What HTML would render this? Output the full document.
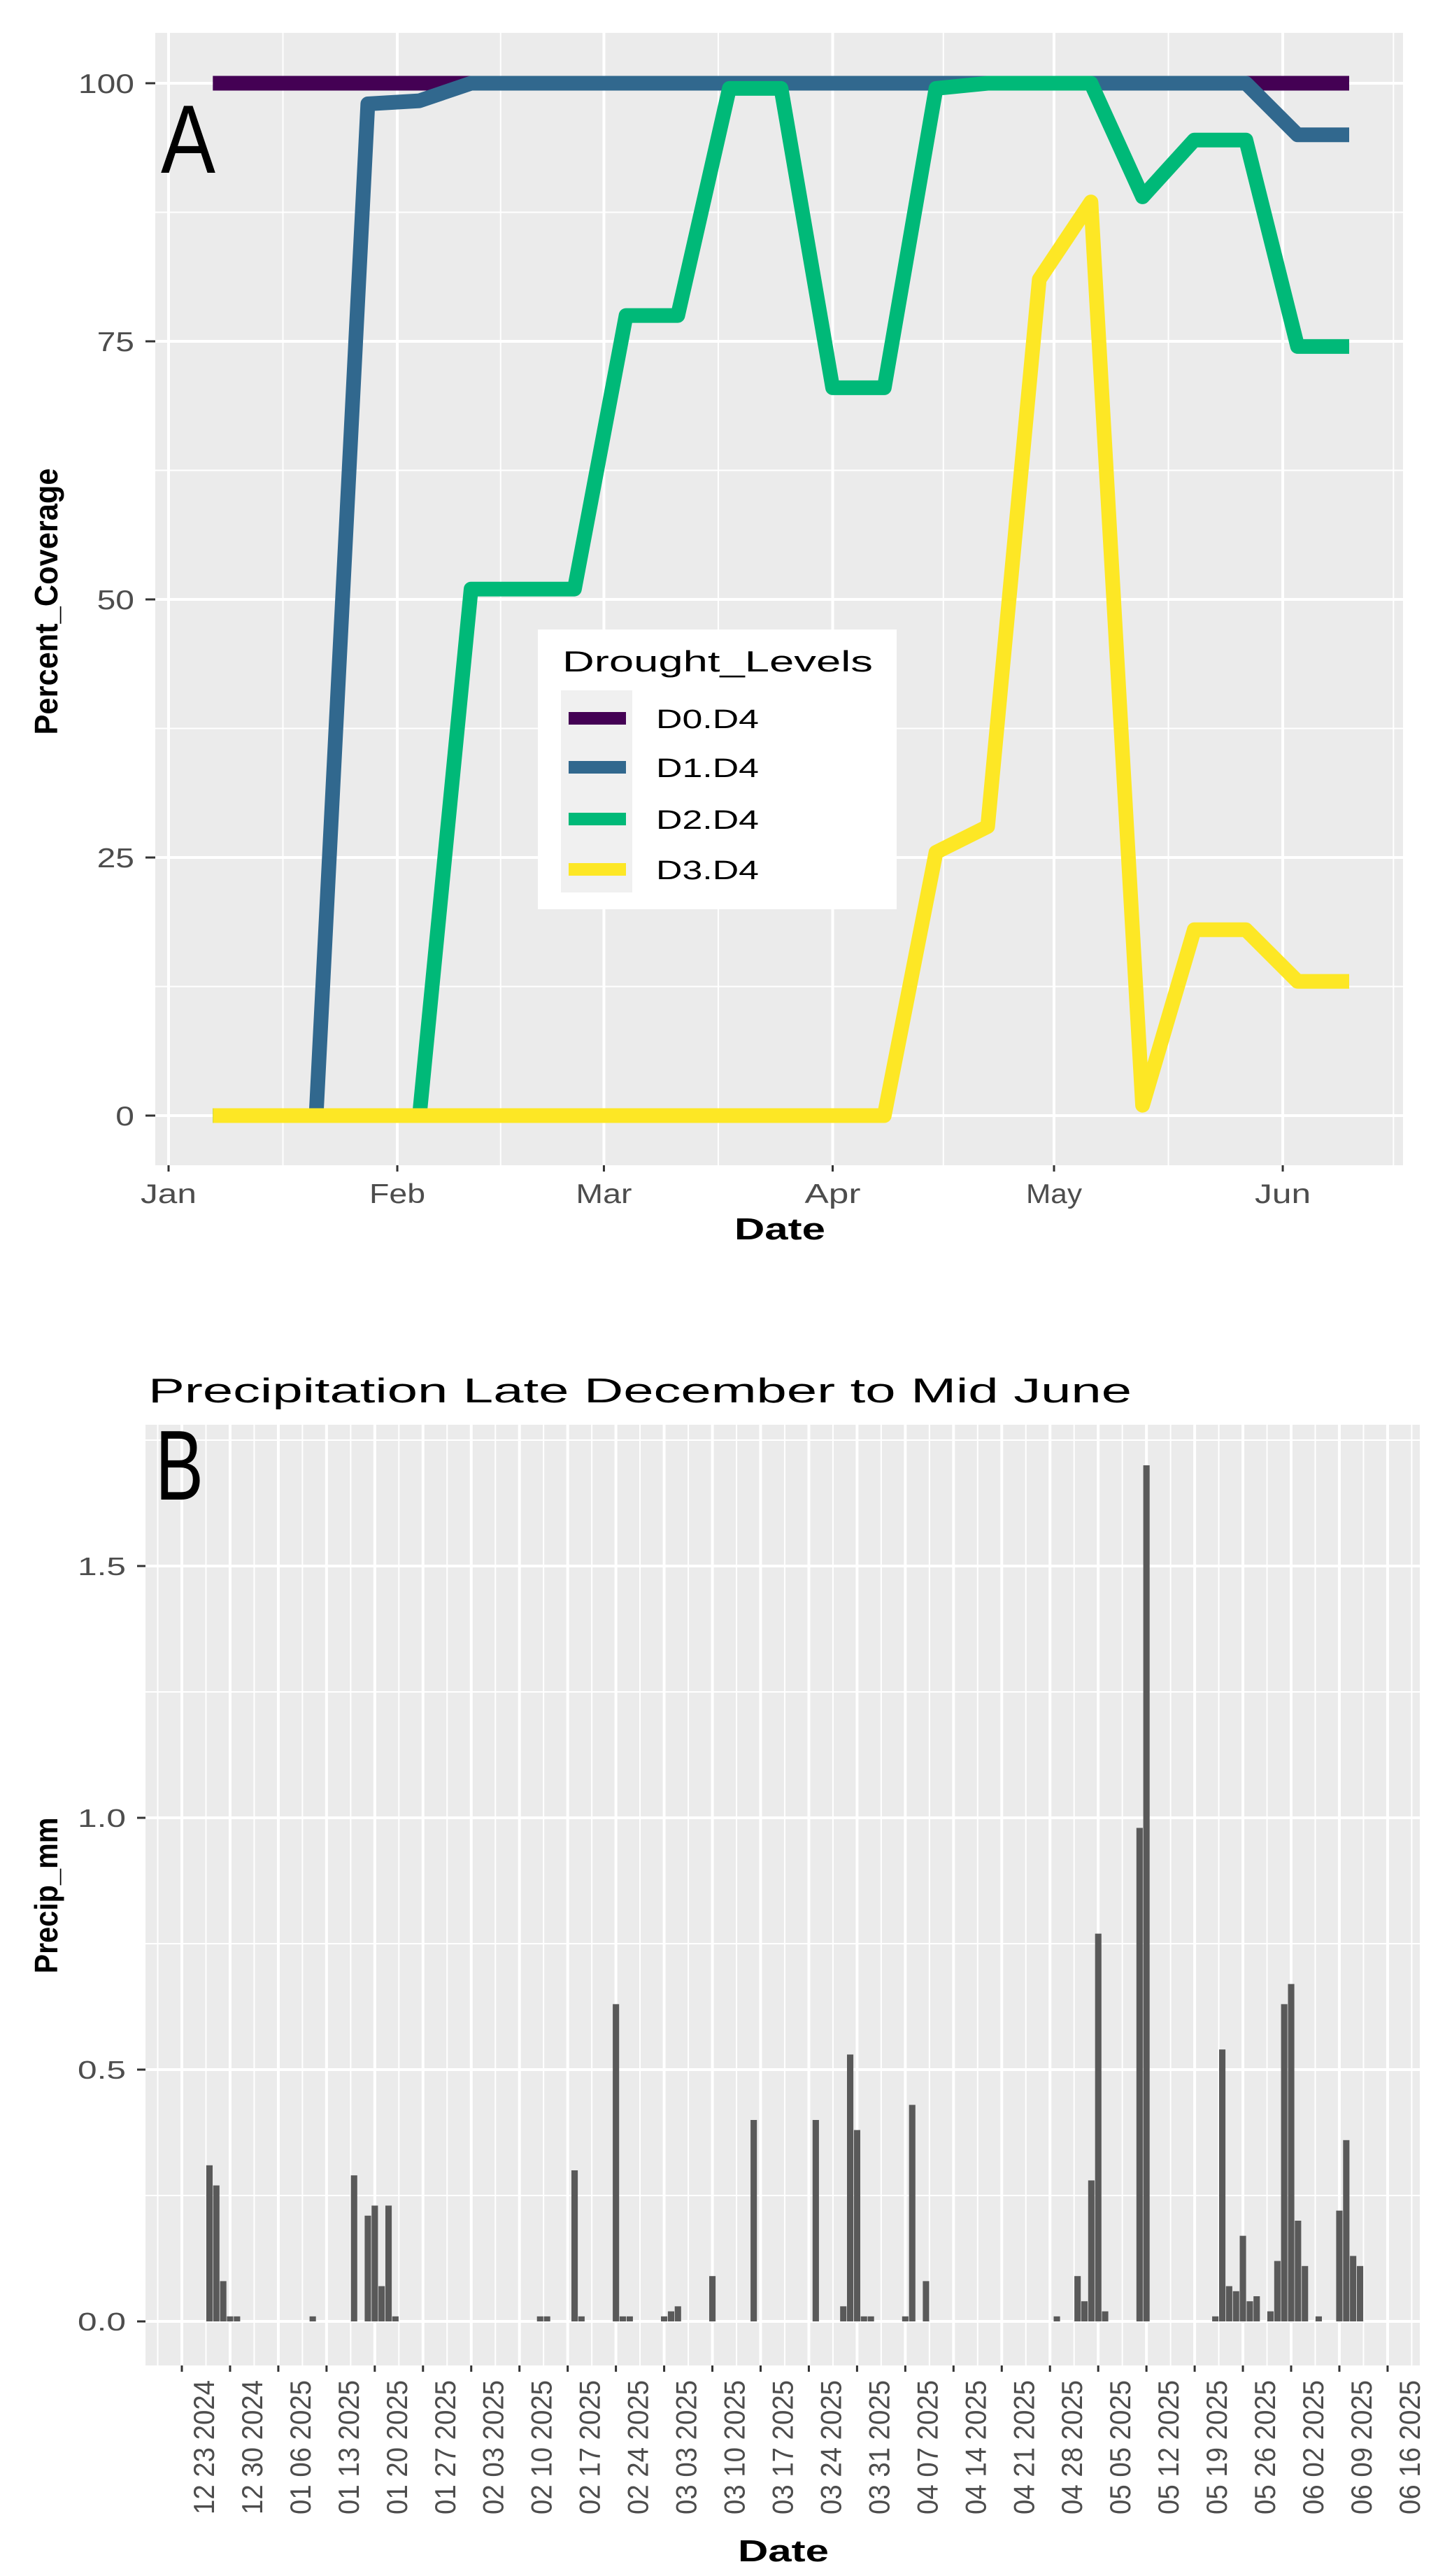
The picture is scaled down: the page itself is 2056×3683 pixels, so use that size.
<!DOCTYPE html>
<html><head><meta charset="utf-8"><title>Drought coverage and precipitation</title>
<style>
html,body{margin:0;padding:0;background:#fff;}
svg{display:block;font-family:"Liberation Sans",Arial,sans-serif;}
</style></head>
<body>
<svg id="fig" xmlns="http://www.w3.org/2000/svg" width="2056" height="3683" viewBox="0 0 2056 3683">
<rect x="0" y="0" width="2056" height="3683" fill="#ffffff"/>
<g id="panelA"></g>
<g id="panelB"></g>
</svg>
<script>
// ---------- Panel A data ----------
const weekDays = [6,13,20,27,34,41,48,55,62,69,76,83,90,97,104,111,118,125,132,139,146,153,160]; // days since Jan 1 2025
const seriesNames = ["D0.D4","D1.D4","D2.D4","D3.D4"];
const d0Values = [100,100,100,100,100,100,100,100,100,100,100,100,100,100,100,100,100,100,100,100,100,100,100];
const d1Values = [0,0,0,98,98.3,100,100,100,100,100,100,100,100,100,100,100,100,100,100,100,100,95,95];
const d2Values = [0,0,0,0,0,51,51,51,77.5,77.5,99.5,99.5,70.5,70.5,99.5,100,100,100,89,94.5,94.5,74.5,74.5];
const d3Values = [0,0,0,0,0,0,0,0,0,0,0,0,0,0,25.5,28,81,88.5,1,18,18,13,13];
const seriesColors = ["#440154","#31688E","#00B978","#FDE725"];
const monthLabels = ["Jan","Feb","Mar","Apr","May","Jun"];
const monthDays = [0,31,59,90,120,151];
const yTicksA = [0,25,50,75,100];

// ---------- Panel B data ----------
const precipDays = [4,5,6,7,8,19,25,27,28,29,30,31,52,53,57,58,63,64,65,70,71,72,77,83,92,96,97,98,99,100,105,106,108,127,130,131,132,133,134,139,140,150,151,152,153,154,155,156,158,159,160,161,162,163,165,168,169,170,171]; // days since Dec 23 2024
const precipValues = [0.31,0.27,0.08,0.01,0.01,0.01,0.29,0.21,0.23,0.07,0.23,0.01,0.01,0.01,0.30,0.01,0.63,0.01,0.01,0.01,0.02,0.03,0.09,0.40,0.40,0.03,0.53,0.38,0.01,0.01,0.01,0.43,0.08,0.01,0.09,0.04,0.28,0.77,0.02,0.98,1.70,0.01,0.54,0.07,0.06,0.17,0.04,0.05,0.02,0.12,0.63,0.67,0.20,0.11,0.01,0.22,0.36,0.13,0.11];
const weekTickLabels = ["12 23 2024","12 30 2024","01 06 2025","01 13 2025","01 20 2025","01 27 2025","02 03 2025","02 10 2025","02 17 2025","02 24 2025","03 03 2025","03 10 2025","03 17 2025","03 24 2025","03 31 2025","04 07 2025","04 14 2025","04 21 2025","04 28 2025","05 05 2025","05 12 2025","05 19 2025","05 26 2025","06 02 2025","06 09 2025","06 16 2025"];
const yTicksB = [0,0.5,1.0,1.5];
const yTickTextB = ["0.0","0.5","1.0","1.5"];

const NS = "http://www.w3.org/2000/svg";
function mk(parent, tag, attrs){
  const e = document.createElementNS(NS, tag);
  for (const k in attrs) e.setAttribute(k, attrs[k]);
  parent.appendChild(e);
  return e;
}

// ================= PANEL A =================
const A = document.getElementById("panelA");
const aL=222, aR=2006, aT=47, aB=1666;
const xA = d => 241 + d*10.55;
const yA = v => 1595 - v*(1476/100);

let bg = mk(A,"rect",{x:aL,y:aT,width:aR-aL,height:aB-aT,fill:"#EBEBEB"});



[12.5,37.5,62.5,87.5].forEach(v=>{
  const g=mk(A,"line",{x1:aL,x2:aR,y1:yA(v),y2:yA(v),stroke:"#fff","stroke-width":2});
  
  
});
[15.5,45,74.5,105,135.5,166].forEach(d=>{
  const g=mk(A,"line",{x1:xA(d),x2:xA(d),y1:aT,y2:aB,stroke:"#fff","stroke-width":2});
  
  
});
yTicksA.forEach(v=>{
  const g=mk(A,"line",{x1:aL,x2:aR,y1:yA(v),y2:yA(v),stroke:"#fff","stroke-width":4});
  
  
  const t=mk(A,"line",{x1:208,x2:aL,y1:yA(v),y2:yA(v),stroke:"#333","stroke-width":3});
  
  
  const s=String(v);
  const lb=mk(A,"text",{x:192,y:yA(v)+14,"text-anchor":"end","font-size":39,fill:"#4D4D4D",textLength:s.length*26.7,lengthAdjust:"spacingAndGlyphs"});
  lb.textContent=s;
  
  
});
monthDays.forEach((d,i)=>{
  const g=mk(A,"line",{x1:xA(d),x2:xA(d),y1:aT,y2:aB,stroke:"#fff","stroke-width":4});
  
  
  const t=mk(A,"line",{x1:xA(d),x2:xA(d),y1:aB,y2:aB+9,stroke:"#333","stroke-width":3});
  
  
  const lb=mk(A,"text",{x:xA(d),y:1720,"text-anchor":"middle","font-size":39,fill:"#4D4D4D",textLength:80,lengthAdjust:"spacingAndGlyphs"});
  lb.textContent=monthLabels[i];
  
  
});

const allSeries=[d0Values,d1Values,d2Values,d3Values];
allSeries.forEach((vals,s)=>{
  const pts = vals.map((v,i)=>xA(weekDays[i]).toFixed(1)+","+yA(v).toFixed(1)).join(" ");
  const pl=mk(A,"polyline",{points:pts,fill:"none",stroke:seriesColors[s],"stroke-width":21,"stroke-linejoin":"round","stroke-linecap":"butt"});
  
  
});

let la=mk(A,"text",{x:230,y:247,"font-size":139,fill:"#000",textLength:78,lengthAdjust:"spacingAndGlyphs"});
la.textContent="A";



let lg=mk(A,"g",{});


let lbx=mk(lg,"rect",{x:769,y:900,width:513,height:400,fill:"#fff"});


let lt=mk(lg,"text",{x:804,y:960,"font-size":42,fill:"#000",textLength:444,lengthAdjust:"spacingAndGlyphs"});
lt.textContent="Drought_Levels";


let kb=mk(lg,"rect",{x:802,y:987,width:102,height:289,fill:"#F0F0F0"});


const rowY=[1027,1097,1171,1243];
seriesNames.forEach((n,i)=>{
  const sw=mk(lg,"rect",{x:813,y:rowY[i]-9,width:82,height:18,fill:seriesColors[i]});
  
  
  const tx=mk(lg,"text",{x:938,y:rowY[i]+14,"font-size":38,fill:"#000",textLength:147,lengthAdjust:"spacingAndGlyphs"});
  tx.textContent=n;
  
  
});

let xtA=mk(A,"text",{x:1115,y:1772,"text-anchor":"middle","font-size":44,"font-weight":"bold",fill:"#000",textLength:130,lengthAdjust:"spacingAndGlyphs"});
xtA.textContent="Date";


let ytA=mk(A,"text",{x:0,y:0,"text-anchor":"middle","font-size":46,"font-weight":"bold",fill:"#000",textLength:381,lengthAdjust:"spacingAndGlyphs",transform:"translate(82,860) rotate(-90)"});
ytA.textContent="Percent_Coverage";



// ================= PANEL B =================
const B = document.getElementById("panelB");
const bL=208, bR=2030, bT=2037, bBot=3382;
const pxDay=9.851;
const xB = d => 260 + d*pxDay;
const yB = v => 3319 - v*720;

let bgb=mk(B,"rect",{x:bL,y:bT,width:bR-bL,height:bBot-bT,fill:"#EBEBEB"});



[0.25,0.75,1.25,1.75].forEach(v=>{
  const g=mk(B,"line",{x1:bL,x2:bR,y1:yB(v),y2:yB(v),stroke:"#fff","stroke-width":2});
  
  
});
for (let i=-1;i<weekTickLabels.length;i++){
  const d=i*7+3.5;
  const g=mk(B,"line",{x1:xB(d),x2:xB(d),y1:bT,y2:bBot,stroke:"#fff","stroke-width":2});
  
  
}
yTicksB.forEach((v,i)=>{
  const g=mk(B,"line",{x1:bL,x2:bR,y1:yB(v),y2:yB(v),stroke:"#fff","stroke-width":4});
  
  
  const t=mk(B,"line",{x1:196,x2:bL,y1:yB(v),y2:yB(v),stroke:"#333","stroke-width":3});
  
  
  const lb=mk(B,"text",{x:180,y:yB(v)+13,"text-anchor":"end","font-size":36,fill:"#4D4D4D",textLength:69,lengthAdjust:"spacingAndGlyphs"});
  lb.textContent=yTickTextB[i];
  
  
});
weekTickLabels.forEach((s,i)=>{
  const x=xB(i*7);
  const g=mk(B,"line",{x1:x,x2:x,y1:bT,y2:bBot,stroke:"#fff","stroke-width":4});
  
  
  const t=mk(B,"line",{x1:x,x2:x,y1:bBot,y2:bBot+9,stroke:"#333","stroke-width":3});
  
  
  const lb=mk(B,"text",{x:0,y:0,"text-anchor":"end","font-size":42,fill:"#4D4D4D",textLength:192,lengthAdjust:"spacingAndGlyphs",transform:"translate("+(x+46).toFixed(1)+",3403) rotate(-90)"});
  lb.textContent=s;
  
  
});

precipDays.forEach((d,i)=>{
  const v=precipValues[i];
  const w=pxDay*0.92;
  const top=yB(v), h=Math.max(yB(0)-top,1.5);
  const r=mk(B,"rect",{x:(xB(d)-w/2).toFixed(1),y:(yB(0)-h).toFixed(1),width:w.toFixed(1),height:h.toFixed(1),fill:"#595959"});
  
  
});

let lbB=mk(B,"text",{x:222,y:2144,"font-size":142,fill:"#000",textLength:69,lengthAdjust:"spacingAndGlyphs"});
lbB.textContent="B";



let ttl=mk(B,"text",{x:212,y:2005,"font-size":49,fill:"#000",textLength:1406,lengthAdjust:"spacingAndGlyphs"});
ttl.textContent="Precipitation Late December to Mid June";



let xtB=mk(B,"text",{x:1120,y:3662,"text-anchor":"middle","font-size":44,"font-weight":"bold",fill:"#000",textLength:130,lengthAdjust:"spacingAndGlyphs"});
xtB.textContent="Date";


let ytB=mk(B,"text",{x:0,y:0,"text-anchor":"middle","font-size":46,"font-weight":"bold",fill:"#000",textLength:223,lengthAdjust:"spacingAndGlyphs",transform:"translate(82,2710) rotate(-90)"});
ytB.textContent="Precip_mm";


</script>
</body></html>
